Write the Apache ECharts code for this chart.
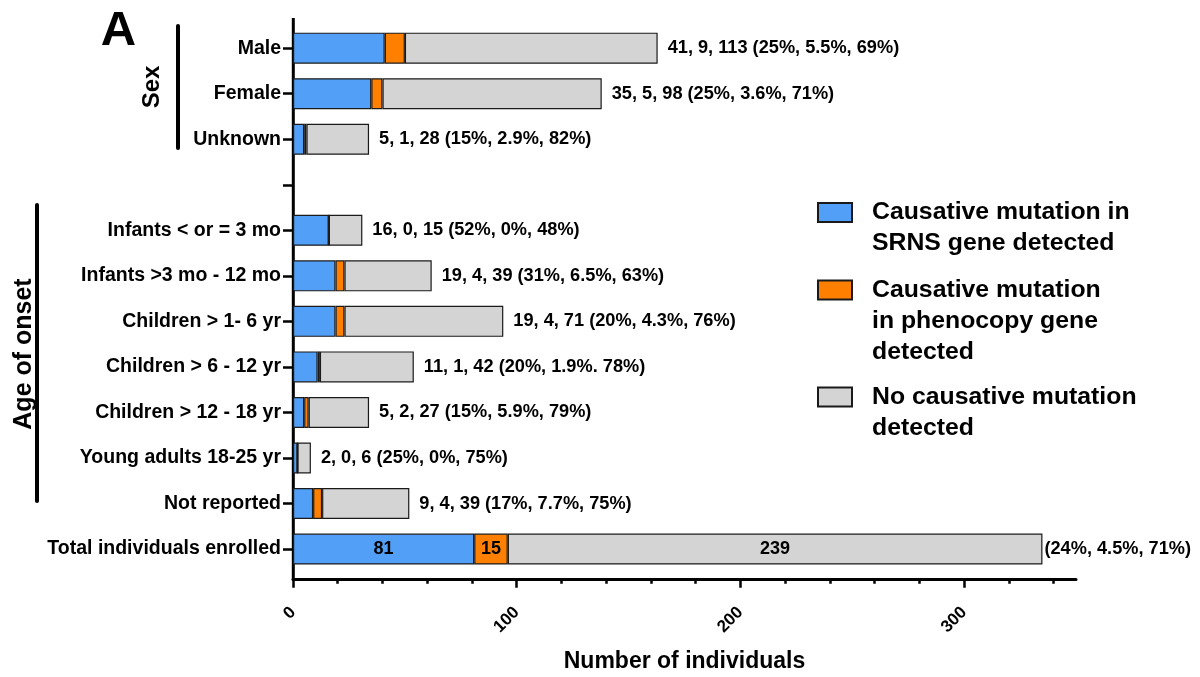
<!DOCTYPE html>
<html>
<head>
<meta charset="utf-8">
<title>Diagnostic yield by sex and age of onset</title>
<script src="https://cdn.jsdelivr.net/npm/echarts@6/dist/echarts.min.js"></script>
<style>
  html, body { margin: 0; padding: 0; background: #fff; }
  #chart { width: 1200px; height: 677px; }
</style>
</head>
<body>
<div id="chart"></div>
<script>
// Rows from top to bottom; the empty entry is the spacer between the two groups.
const categories = [
  'Male', 'Female', 'Unknown', '',
  'Infants < or = 3 mo', 'Infants >3 mo - 12 mo', 'Children > 1- 6 yr',
  'Children > 6 - 12 yr', 'Children > 12 - 18 yr', 'Young adults 18-25 yr',
  'Not reported', 'Total individuals enrolled'
];
const srnsDetected      = [41, 35, 5, null, 16, 19, 19, 11, 5, 2, 9, 81];
const phenocopyDetected = [9, 5, 1, null, 0, 4, 4, 1, 2, 0, 4, 15];
const noMutation        = [113, 98, 28, null, 15, 39, 71, 42, 27, 6, 39, 239];
const percentLabels = [
  '(25%, 5.5%, 69%)', '(25%, 3.6%, 71%)', '(15%, 2.9%, 82%)', '',
  '(52%, 0%, 48%)', '(31%, 6.5%, 63%)', '(20%, 4.3%, 76%)', '(20%, 1.9%. 78%)',
  '(15%, 5.9%, 79%)', '(25%, 0%, 75%)', '(17%, 7.7%, 75%)', '(24%, 4.5%, 71%)'
];
const seriesNames = [
  'Causative mutation in\nSRNS gene detected',
  'Causative mutation\nin phenocopy gene\ndetected',
  'No causative mutation\ndetected'
];
const xMajorTicks = [0, 100, 200, 300];
const xMinorTicks = [20, 40, 60, 80, 120, 140, 160, 180, 220, 240, 260, 280, 320, 340];
const xMax = 350;

const FONT = '"Liberation Sans", Arial, Helvetica, sans-serif';
const COLORS = ['#529ff7', '#ff8000', '#d4d4d4'];
const BORDER = '#1a1a1a';
const totalIndex = categories.length - 1;

const GRID = { left: 293, right: 124, top: 25.4, bottom: 105.2 };
const AXIS_Y = 677 - GRID.bottom + 7;

const boldText = (size) => ({ fontFamily: FONT, fontWeight: 'bold', fontSize: size, color: '#000' });

// Segment data; the total row carries an inside value label.
function segmentData(values) {
  return values.map((v, i) => {
    if (v === null) return '-';
    if (i === totalIndex) {
      return { value: v, label: { show: true, position: 'inside', ...boldText(18) } };
    }
    return v;
  });
}

function segmentSeries(name, values, color) {
  return {
    name: name,
    type: 'bar',
    stack: 'count',
    barWidth: 31,
    itemStyle: { color: color, borderColor: BORDER, borderWidth: 1.2 },
    label: { show: false },
    emphasis: { disabled: true },
    data: segmentData(values)
  };
}

// Zero-length bar at the end of each stack that carries the count/percentage text.
const summaryData = categories.map((c, i) => {
  if (srnsDetected[i] === null) return '-';
  if (i === totalIndex) return { value: 0, label: { distance: 2 } };
  return 0;
});

// Legend entries keep their icon level with the first text line:
// blank leading lines balance the lines that follow it.
const legendText = (name) => {
  const extra = name.split('\n').length - 1;
  return '\n'.repeat(extra) + name;
};

const option = {
  animation: false,
  backgroundColor: '#fff',
  grid: {
    left: GRID.left, right: GRID.right, top: GRID.top, bottom: GRID.bottom,
    containLabel: false, outerBoundsMode: 'none'
  },
  xAxis: [
    {
      type: 'value', position: 'bottom', min: 0, max: xMax, interval: 100, offset: 7,
      name: 'Number of individuals', nameLocation: 'middle', nameGap: 83,
      nameTextStyle: { ...boldText(23), verticalAlign: 'middle' },
      axisLine: { show: true, lineStyle: { color: '#000', width: 3 } },
      axisTick: { show: true, length: 9, customValues: xMajorTicks, lineStyle: { color: '#000', width: 2.5 } },
      axisLabel: {
        show: true, rotate: 45, margin: 31, showMaxLabel: false,
        fontFamily: FONT, fontWeight: 'bold', fontSize: 17, color: '#000'
      },
      splitLine: { show: false }
    },
    {
      type: 'value', position: 'bottom', min: 0, max: xMax, interval: 20, offset: 7,
      axisLine: { show: false },
      axisTick: { show: true, length: 5, customValues: xMinorTicks, lineStyle: { color: '#000', width: 2.5 } },
      axisLabel: { show: false },
      splitLine: { show: false }
    }
  ],
  yAxis: {
    type: 'category', inverse: true, data: categories,
    axisLine: { show: false },
    axisTick: { show: true, alignWithLabel: true, length: 10, lineStyle: { color: '#000', width: 2.5 } },
    axisLabel: { margin: 12, ...boldText(19.5) }
  },
  legend: seriesNames.map((name, i) => ({
    data: [name],
    orient: 'vertical',
    left: 817,
    top: [166, 212.5, 350.5][i],
    padding: 0,
    icon: 'rect',
    itemWidth: 34,
    itemHeight: 19,
    formatter: legendText,
    textStyle: { ...boldText(24.8), lineHeight: 31, padding: [0, 0, 0, 15] }
  })),
  series: [
    segmentSeries(seriesNames[0], srnsDetected, COLORS[0]),
    segmentSeries(seriesNames[1], phenocopyDetected, COLORS[1]),
    segmentSeries(seriesNames[2], noMutation, COLORS[2]),
    {
      name: 'summary',
      type: 'bar',
      stack: 'count',
      barWidth: 31,
      silent: true,
      itemStyle: { color: 'rgba(0,0,0,0)', borderWidth: 0 },
      label: {
        show: true, position: 'right', distance: 10, ...boldText(18.2),
        formatter: (p) => {
          const i = p.dataIndex;
          if (i === totalIndex) return percentLabels[i];
          return srnsDetected[i] + ', ' + phenocopyDetected[i] + ', ' + noMutation[i] + ' ' + percentLabels[i];
        }
      },
      data: summaryData
    }
  ],
  graphic: [
    // vertical axis line, drawn a little past both ends of the category bands
    { type: 'line', silent: true, shape: { x1: GRID.left + 0.3, y1: 18, x2: GRID.left + 0.3, y2: AXIS_Y + 1.5 },
      style: { stroke: '#000', lineWidth: 3 } },
    { type: 'text', x: 118.5, y: 31, silent: true,
      style: { text: 'A', font: 'bold 49px ' + FONT, fill: '#000', align: 'center', verticalAlign: 'middle' } },
    { type: 'text', x: 152, y: 87, rotation: Math.PI / 2, silent: true,
      style: { text: 'Sex', font: 'bold 24px ' + FONT, fill: '#000', align: 'center', verticalAlign: 'middle' } },
    { type: 'line', silent: true, shape: { x1: 178, y1: 26, x2: 178, y2: 148 },
      style: { stroke: '#000', lineWidth: 4, lineCap: 'round' } },
    { type: 'text', x: 24, y: 354, rotation: Math.PI / 2, silent: true,
      style: { text: 'Age of onset', font: 'bold 25px ' + FONT, fill: '#000', align: 'center', verticalAlign: 'middle' } },
    { type: 'line', silent: true, shape: { x1: 37, y1: 205, x2: 37, y2: 501 },
      style: { stroke: '#000', lineWidth: 4, lineCap: 'round' } }
  ]
};

const chart = echarts.init(document.getElementById('chart'), null, { renderer: 'canvas' });
chart.setOption(option);
</script>
</body>
</html>
